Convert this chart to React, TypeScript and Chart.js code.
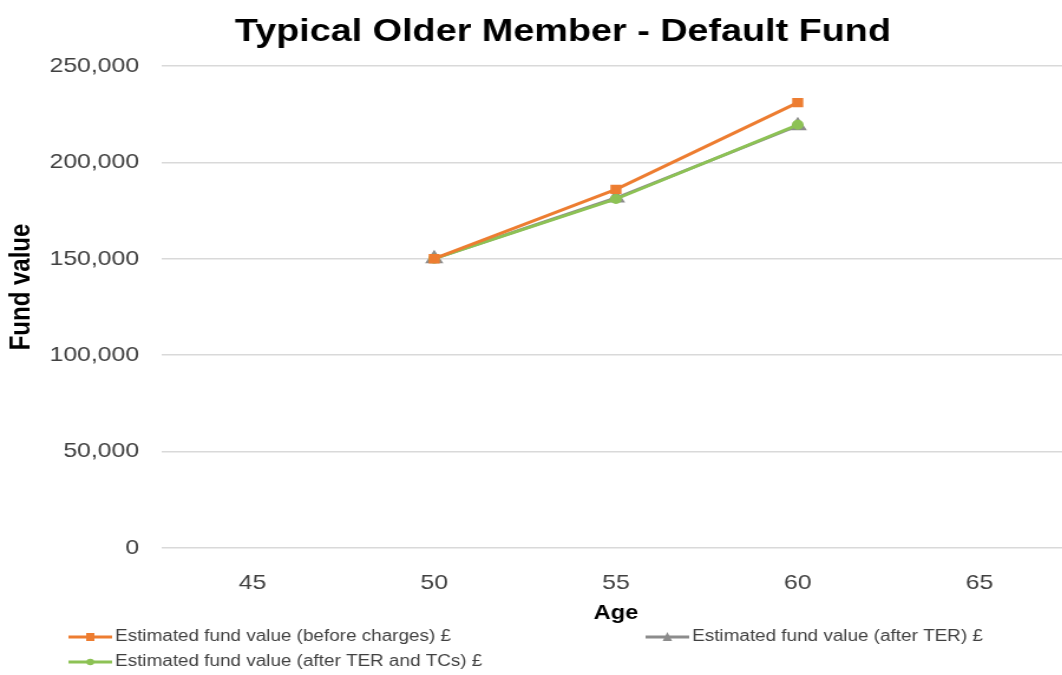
import React, { useEffect, useRef } from "react";
import { Chart, registerables } from "chart.js";

Chart.register(...registerables);

const ages = ["45", "50", "55", "60", "65"];
const beforeCharges = [null, 150000, 186000, 231000, null];
const afterTER = [null, 150000, 181500, 219000, null];
const afterTERandTCs = [null, 150000, 181000, 219500, null];
const yTicks = [0, 50000, 100000, 150000, 200000, 250000];
const chartTitle = "Typical Older Member - Default Fund";
const yAxisTitle = "Fund value";
const xAxisTitle = "Age";

const ORANGE = "#ED7D31";
const GRAY = "#8C8C8C";
const GREEN = "#8DC255";
const FONT = "'Liberation Sans', Arial, sans-serif";

// internal canvas is stretched horizontally by CSS (like the reference image)
const INTERNAL_W = 916;
const CSS_W = 1081;
const H = 675;

const legendPositions = [
  { x: 58, y: 637 },
  { x: 547, y: 637 },
  { x: 58, y: 662 },
];

const titlePlugin = {
  id: "customTitles",
  afterDraw(chart: any) {
    const ctx = chart.ctx;
    ctx.save();
    ctx.fillStyle = "#000000";
    ctx.font = "bold 32px " + FONT;
    ctx.textAlign = "center";
    ctx.textBaseline = "middle";
    ctx.fillText(chartTitle, 477, 32);
    ctx.translate(18.6, 287);
    ctx.rotate(-Math.PI / 2);
    ctx.font = "bold 24px " + FONT;
    ctx.fillText(yAxisTitle, 0, 0);
    ctx.restore();
  },
};

const customLegend = {
  id: "customLegend",
  afterDraw(chart: any) {
    const ctx = chart.ctx;
    ctx.save();
    [0, 1, 2].forEach((i) => {
      const ds = chart.data.datasets[i];
      const pos = legendPositions[i];
      ctx.strokeStyle = ds.borderColor;
      ctx.lineWidth = 3;
      ctx.beginPath();
      ctx.moveTo(pos.x, pos.y);
      ctx.lineTo(pos.x + 37, pos.y);
      ctx.stroke();
      const cx = pos.x + 18.5;
      ctx.fillStyle = ds.pointBackgroundColor;
      if (ds.pointStyle === "rect") {
        ctx.fillRect(cx - 3.5, pos.y - 4, 7, 8);
      } else if (ds.pointStyle === "triangle") {
        ctx.beginPath();
        ctx.moveTo(cx, pos.y - 5);
        ctx.lineTo(cx + 4, pos.y + 4);
        ctx.lineTo(cx - 4, pos.y + 4);
        ctx.closePath();
        ctx.fill();
      } else {
        ctx.beginPath();
        ctx.arc(cx, pos.y, 3.2, 0, Math.PI * 2);
        ctx.fill();
      }
      ctx.fillStyle = "#404040";
      ctx.font = "16px " + FONT;
      ctx.textBaseline = "middle";
      ctx.textAlign = "left";
      ctx.fillText(ds.label, pos.x + 39.5, pos.y);
    });
    ctx.restore();
  },
};

export default function App() {
  const ref = useRef<HTMLCanvasElement | null>(null);
  useEffect(() => {
    if (!ref.current) return;
    const chart = new Chart(ref.current, {
      type: "line",
      data: {
        labels: ages,
        datasets: [
          {
            label: "Estimated fund value (before charges) £",
            data: beforeCharges,
            borderColor: ORANGE,
            backgroundColor: ORANGE,
            pointBackgroundColor: ORANGE,
            pointBorderColor: ORANGE,
            pointStyle: "rect",
            pointRadius: 4.5,
            borderWidth: 3,
            order: 0,
          },
          {
            label: "Estimated fund value (after TER) £",
            data: afterTER,
            borderColor: GRAY,
            backgroundColor: GRAY,
            pointBackgroundColor: GRAY,
            pointBorderColor: GRAY,
            pointStyle: "triangle",
            pointRadius: 6,
            borderWidth: 3,
            order: 2,
          },
          {
            label: "Estimated fund value (after TER and TCs) £",
            data: afterTERandTCs,
            borderColor: GREEN,
            backgroundColor: GREEN,
            pointBackgroundColor: GREEN,
            pointBorderColor: GREEN,
            pointStyle: "circle",
            pointRadius: 3.5,
            borderWidth: 3,
            order: 1,
          },
        ],
      },
      options: {
        animation: false,
        responsive: false,
        devicePixelRatio: 1,
        layout: { padding: { top: 66, right: 0, bottom: 50, left: 23 } },
        plugins: {
          legend: { display: false },
          tooltip: { enabled: false },
          title: { display: false },
        },
        scales: {
          x: {
            offset: true,
            grid: { display: false },
            border: { display: false },
            ticks: {
              color: "#404040",
              font: { family: FONT, size: 21 },
              padding: 15,
            },
            title: {
              display: true,
              text: xAxisTitle,
              color: "#000000",
              font: { family: FONT, size: 20, weight: "bold" },
              padding: { top: -10, bottom: 0 },
            },
          },
          y: {
            min: 0,
            max: 250000,
            afterBuildTicks: (axis: any) => {
              axis.ticks = yTicks.map((v) => ({ value: v }));
            },
            grid: { color: "#D9D9D9", lineWidth: 1.5, drawTicks: false },
            border: { display: false },
            ticks: {
              color: "#404040",
              font: { family: FONT, size: 21 },
              padding: 19,
              callback: (v: any) => Number(v).toLocaleString("en-US"),
            },
            title: { display: false },
          },
        },
      },
      plugins: [titlePlugin, customLegend],
    });
    return () => chart.destroy();
  }, []);
  return (
    <div
      style={{
        position: "fixed",
        left: 0,
        top: 0,
        width: 1062,
        height: H,
        overflow: "hidden",
        background: "#fff",
      }}
    >
      <canvas
        ref={ref}
        width={INTERNAL_W}
        height={H}
        style={{ width: CSS_W + "px", height: H + "px", display: "block" }}
      />
    </div>
  );
}
